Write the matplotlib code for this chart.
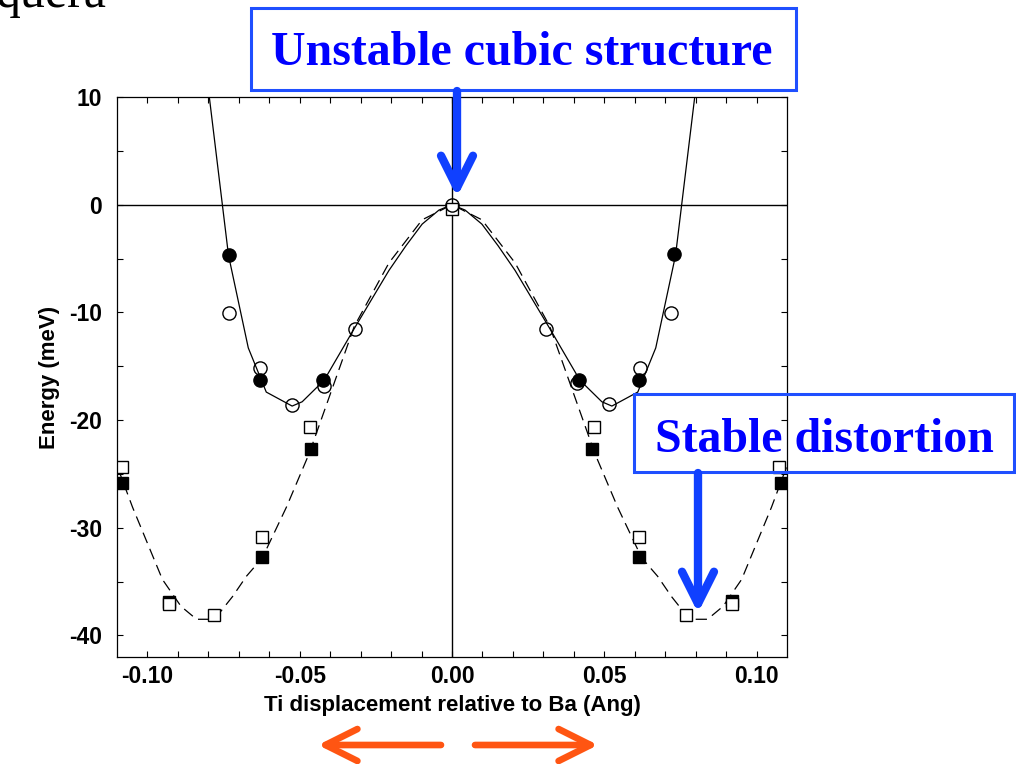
import numpy as np
import matplotlib
matplotlib.use('Agg')
import matplotlib.pyplot as plt
from matplotlib.patches import Rectangle, FancyArrowPatch

plt.rcParams['axes.unicode_minus'] = False

# fit curves
x_fit1 = [-0.0797, -0.0734, -0.0669, -0.0610, -0.0525, -0.0492, -0.0420, -0.0321, -0.0262, -0.0207,
          -0.0151, -0.0098, -0.0043, 0.0, 0.0043, 0.0098, 0.0151, 0.0207, 0.0262, 0.0321, 0.0420,
          0.0492, 0.0525, 0.0610, 0.0669, 0.0734, 0.0797]
y_fit1 = [10.0, -4.7, -13.3, -17.4, -18.7, -18.3, -16.3, -11.5, -8.7, -6.1,
          -3.8, -1.8, -0.5, 0.0, -0.5, -1.8, -3.8, -6.1, -8.7, -11.5, -16.3,
          -18.3, -18.7, -17.4, -13.3, -4.7, 10.0]

x_fit2 = [-0.1098, -0.1049, -0.0951, -0.0890, -0.0839, -0.0780, -0.0721, -0.0675, -0.0623, -0.0544,
          -0.0469, -0.0400, -0.0321, -0.0207, -0.0098, 0.0, 0.0098, 0.0207, 0.0321, 0.0400, 0.0469,
          0.0544, 0.0623, 0.0675, 0.0721, 0.0780, 0.0839, 0.0890, 0.0951, 0.1049, 0.1098]
y_fit2 = [-24.4, -28.1, -34.8, -37.3, -38.5, -38.5, -36.4, -34.5, -32.8, -28.1,
          -23.1, -17.6, -11.3, -5.4, -1.4, 0.0, -1.4, -5.4, -11.3, -17.6, -23.1,
          -28.1, -32.8, -34.5, -36.4, -38.5, -38.5, -37.3, -34.8, -28.1, -24.4]

# calculated points
x_circ_f = [-0.0731, -0.0630, -0.0423, 0.0418, 0.0613, 0.0728]
y_circ_f = [-4.7, -16.3, -16.3, -16.3, -16.3, -4.6]
x_circ_o = [-0.0731, -0.0630, -0.0525, -0.0420, -0.0318, 0.0, 0.0310, 0.0410, 0.0515, 0.0617, 0.0720]
y_circ_o = [-10.1, -15.2, -18.6, -16.8, -11.5, 0.0, -11.5, -16.6, -18.5, -15.2, -10.1]
x_sq_f = [-0.1085, -0.0928, -0.0623, -0.0462, 0.0459, 0.0613, 0.0918, 0.1080]
y_sq_f = [-25.8, -36.9, -32.7, -22.7, -22.7, -32.7, -36.8, -25.8]
x_sq_o = [-0.1085, -0.0928, -0.0780, -0.0623, -0.0466, 0.0, 0.0466, 0.0613, 0.0767, 0.0918, 0.1075]
y_sq_o = [-24.4, -37.1, -38.1, -30.9, -20.6, -0.4, -20.6, -30.9, -38.1, -37.1, -24.4]

azul = '#0000ff'
azul_borda = '#1f4fff'
azul_seta = '#1040ff'
laranja = '#ff5512'

fig = plt.figure(figsize=(10.16, 7.64), dpi=100)
ax = fig.add_axes([0.1152, 0.1401, 0.6594, 0.7329])

ax.axhline(0, color='k', lw=1.0)
ax.axvline(0, color='k', lw=1.0)
ax.plot(x_fit1, y_fit1, '-k', lw=0.9)
ax.plot(x_fit2, y_fit2, color='k', lw=0.9, dashes=(9, 5))
ax.plot(x_sq_f, y_sq_f, 's', color='k', ms=8, mec='k', mew=1)
ax.plot(x_sq_o, y_sq_o, 's', color='none', ms=8, mfc='white', mec='k', mew=1)
ax.plot(x_circ_f, y_circ_f, 'o', ms=9.5, mfc='k', mec='k', mew=1)
ax.plot(x_circ_o, y_circ_o, 'o', ms=9.5, mfc='none', mec='k', mew=1)

ax.set_xlim(-0.11, 0.11)
ax.set_ylim(-42, 10)
ax.set_xticks([-0.10, -0.05, 0.0, 0.05, 0.10])
ax.set_xticklabels(['-0.10', '-0.05', '0.00', '0.05', '0.10'])
ax.set_xticks(np.arange(-0.10, 0.105, 0.01), minor=True)
ax.set_yticks([10, 0, -10, -20, -30, -40])
ax.set_yticks(np.arange(-40, 11, 5), minor=True)
ax.tick_params(which='both', direction='in', top=True, right=True, length=4.5, width=0.8)
ax.tick_params(axis='x', which='major', pad=6)
ax.tick_params(axis='y', which='major', pad=11)
for lab in ax.get_xticklabels() + ax.get_yticklabels():
    lab.set_fontfamily('Liberation Sans')
    lab.set_fontweight('bold')
    lab.set_fontsize(16.5)
for s in ax.spines.values():
    s.set_linewidth(0.9)

ax.set_xlabel('Ti displacement relative to Ba (Ang)', fontsize=16, family='Liberation Sans',
              fontweight='bold', labelpad=5)
ax.set_ylabel('Energy (meV)', fontsize=16, family='Liberation Sans', fontweight='bold', labelpad=6)

# textos e setas
fig.text(-0.005, 0.9908, 'quera', fontsize=36, family='Liberation Serif', va='baseline')

fig.add_artist(Rectangle((0.247, 0.8822), 0.5364, 0.1073, transform=fig.transFigure,
                         fill=False, ec=azul_borda, lw=2.2))
fig.text(0.5133, 0.9149, 'Unstable cubic structure', fontsize=34.5, family='Liberation Serif',
         fontweight='bold', color=azul, ha='center', va='baseline')
fig.add_artist(Rectangle((0.624, 0.3822), 0.374, 0.1021, transform=fig.transFigure,
                         fill=False, ec=azul_borda, lw=2.2))
fig.text(0.811, 0.4084, 'Stable distortion', fontsize=34.5, family='Liberation Serif',
         fontweight='bold', color=azul, ha='center', va='baseline')


def seta(p0, p1, cor, lw):
    a = FancyArrowPatch((p0[0] / 1016, 1 - p0[1] / 764), (p1[0] / 1016, 1 - p1[1] / 764),
                        transform=fig.transFigure, arrowstyle='->,head_length=2.3,head_width=1.15',
                        mutation_scale=10, color=cor, lw=lw, shrinkA=0, shrinkB=0,
                        capstyle='round', joinstyle='round')
    fig.add_artist(a)


seta((457, 91), (457, 197), azul_seta, 6)
seta((698, 473), (698, 613), azul_seta, 6)
seta((441, 745), (318, 745), laranja, 4.8)
seta((475, 745), (598, 745), laranja, 4.8)

plt.savefig('out.png', dpi=100)
